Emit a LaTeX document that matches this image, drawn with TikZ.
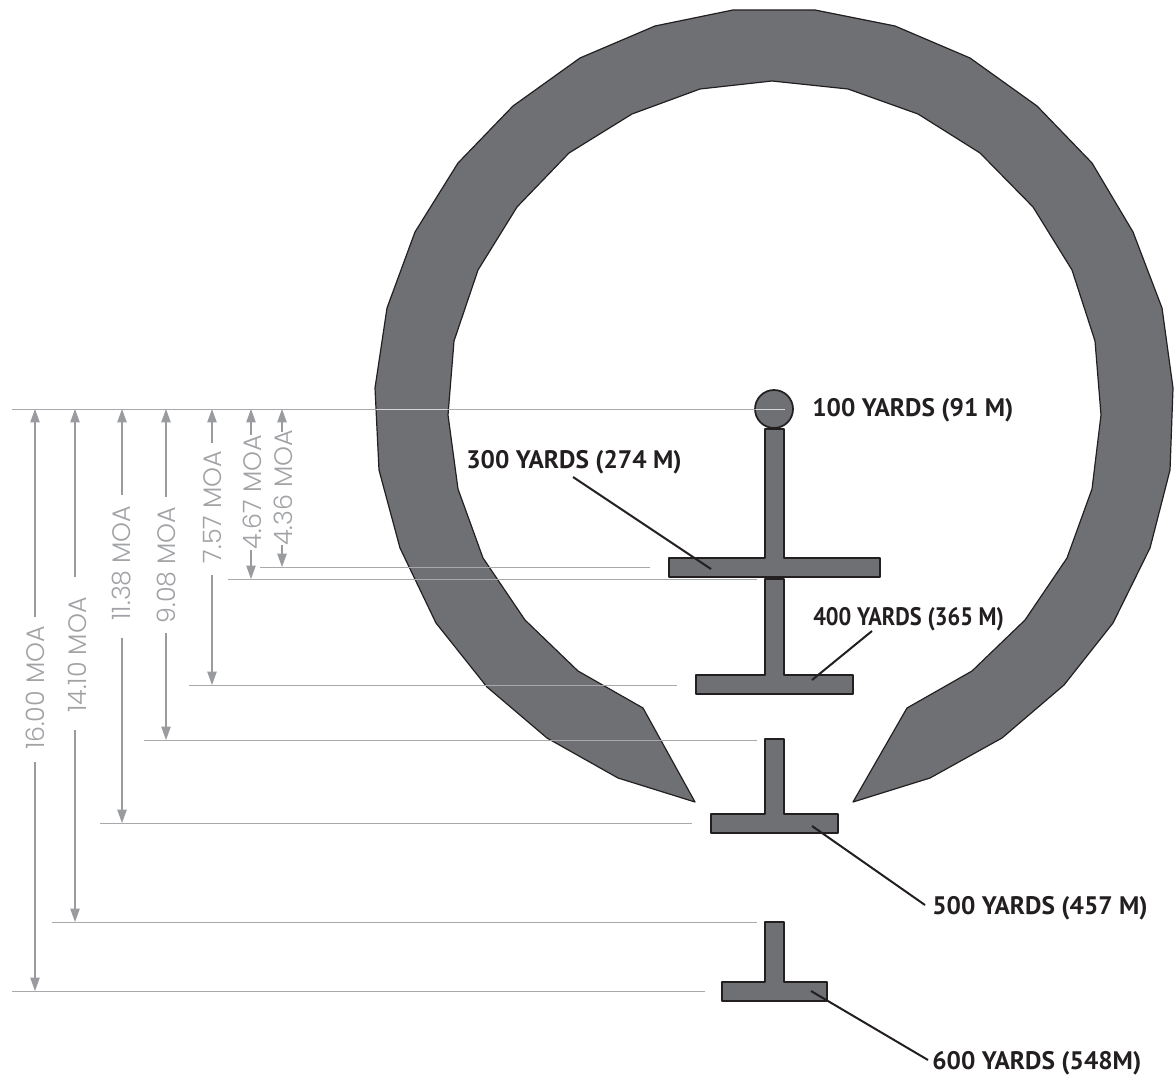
\documentclass[tikz,border=0pt]{standalone}
\usepackage{fontspec}
\usetikzlibrary{arrows.meta}
\newfontfamily\labfont[BoldFont=* Bold]{PT Sans}
\newfontfamily\dimfont[UprightFont=* Light]{Poppins}
\definecolor{ringfill}{HTML}{6F7074}
\definecolor{ink}{HTML}{231F20}
\definecolor{dimgrey}{HTML}{A7A9AC}
\definecolor{dimarrow}{HTML}{999B9E}
\definecolor{dimtext}{HTML}{A0A2A5}
\definecolor{linesheen}{HTML}{D6D7D9}
\tikzset{
  solid shape/.style={fill=ringfill,draw=ink,line join=round},
  ringshape/.style={solid shape,line width=0.9pt},
  target/.style={solid shape,line width=1.3pt},
  extline/.style={draw=dimgrey,line width=0.75pt},
  sheenline/.style={draw=linesheen,line width=0.5pt},
  dimline/.style={draw=dimarrow,line width=0.8pt},
  dimtip/.style={-{Triangle[length=10pt,width=7pt]}},
  dimlabel/.style={rotate=90,inner sep=0pt,text=dimtext,font=\dimfont\fontsize{19}{21}\selectfont},
  rangelabel/.style={anchor=west,inner sep=0pt,text=ink,font=\labfont\bfseries\fontsize{19}{22}\selectfont},
  leader/.style={draw=ink,line width=1.5pt}
}
\begin{document}
\begin{tikzpicture}[x=0.75pt,y=-0.75pt]
\useasboundingbox (0,0) rectangle (1176,1084);
% ring
\filldraw[ringshape] (695,802) -- (618,778) -- (547,738) -- (487,687) -- (436,623) -- (400,548) -- (379,470) -- (375,388) -- (387,308) -- (415,232) -- (458,163) -- (513,106) -- (580,58) -- (655,26) -- (733,10) -- (815,10) -- (895,26) -- (970,58) -- (1037,106) -- (1092,163) -- (1133,232) -- (1162,308) -- (1173,388) -- (1170,470) -- (1150,548) -- (1113,623) -- (1064,685) -- (1002,738) -- (930,778) -- (853,802) -- (907,708) -- (972,671) -- (1025,620) -- (1067,558) -- (1092,489) -- (1101,415) -- (1095,341) -- (1072,270) -- (1033,207) -- (980,153) -- (918,114) -- (848,89) -- (772,81) -- (700,89) -- (632,114) -- (569,153) -- (517,207) -- (478,270) -- (454,341) -- (448,415) -- (458,489) -- (483,558) -- (525,620) -- (578,671) -- (643,708) -- cycle;
% targets
\filldraw[target] (774,409) circle [radius=19];
\filldraw[target] (765,429) -- (784,429) -- (784,558) -- (880,558) -- (880,577) -- (669,577) -- (669,558) -- (765,558) -- cycle;
\filldraw[target] (765,579) -- (784,579) -- (784,675) -- (853,675) -- (853,694) -- (696,694) -- (696,675) -- (765,675) -- cycle;
\filldraw[target] (765,739) -- (784,739) -- (784,814) -- (838,814) -- (838,833) -- (711,833) -- (711,814) -- (765,814) -- cycle;
\filldraw[target] (765,922) -- (784,922) -- (784,982) -- (827,982) -- (827,1001) -- (722,1001) -- (722,982) -- (765,982) -- cycle;
% extension lines
\foreach \nm/\xa/\ya/\xb in {top/12/409/785,e436/260/567/650,e467/228/579/757,e757/189/685/677,e908/144/740/757,e1138/100/823/692,e1410/52/922/757,e1600/12/991/705}{
  \coordinate (\nm L) at (\xa,\ya);
  \coordinate (\nm R) at (\xb,\ya);
  \draw[extline] (\nm L) -- (\nm R);
}
\coordinate (sheenA) at (376,409);
\coordinate (sheenB) at (447,409);
\coordinate (sheenC) at (756,409);
\draw[sheenline] (sheenA) -- (sheenB);
\draw[sheenline] (sheenC) -- (topR);
% dimensions: name / x / bottom y / upper gap end / lower gap start / label centre / text
\foreach \nm/\x/\yb/\gu/\gl/\xc/\yc/\txt in {
  d1600/35/991/617/762/35/688/16.00 MOA,
  d1410/75/922/577/730/77/655/14.10 MOA,
  d1138/122/823/495/638/122/563/11.38 MOA,
  d908/166/740/497/633/167/565/9.08 MOA,
  d757/212/685/443/575/212/507/7.57 MOA,
  d467/251/579/435/550/252/492/4.67 MOA,
  d436/282/567/432/545/283/488/4.36 MOA}{
  \node[dimlabel] (\nm lab) at (\xc,\yc) {\txt};
  \coordinate (\nm T) at (\x,409);
  \coordinate (\nm B) at (\x,\yb);
  \coordinate (\nm U) at (\x,\gu);
  \coordinate (\nm D) at (\x,\gl);
  \draw[dimline,dimtip] (\nm U) -- (\nm T);
  \draw[dimline,dimtip] (\nm D) -- (\nm B);
}
% range labels
\node[rangelabel] (l100) at (812,410) {100 YARDS (91 M)};
\node[rangelabel] (l300) at (466,462) {300 YARDS (274 M)};
\node[rangelabel] (l400) at (813,619) {\scalebox{0.885}[1]{400 YARDS (365 M)}};
\node[rangelabel] (l500) at (932,908) {500 YARDS (457 M)};
\node[rangelabel] (l600) at (932,1063) {600 YARDS (548M)};
\coordinate (p300) at (711,569);
\coordinate (s300) at (573,477);
\coordinate (p400) at (812,680);
\coordinate (s400) at (872,631);
\coordinate (p500) at (812,826);
\coordinate (s500) at (925,905);
\coordinate (p600) at (811,991);
\coordinate (s600) at (928,1060);
\draw[leader] (s300) -- (p300);
\draw[leader] (s400) -- (p400);
\draw[leader] (p500) -- (s500);
\draw[leader] (p600) -- (s600);
\end{tikzpicture}
\end{document}
